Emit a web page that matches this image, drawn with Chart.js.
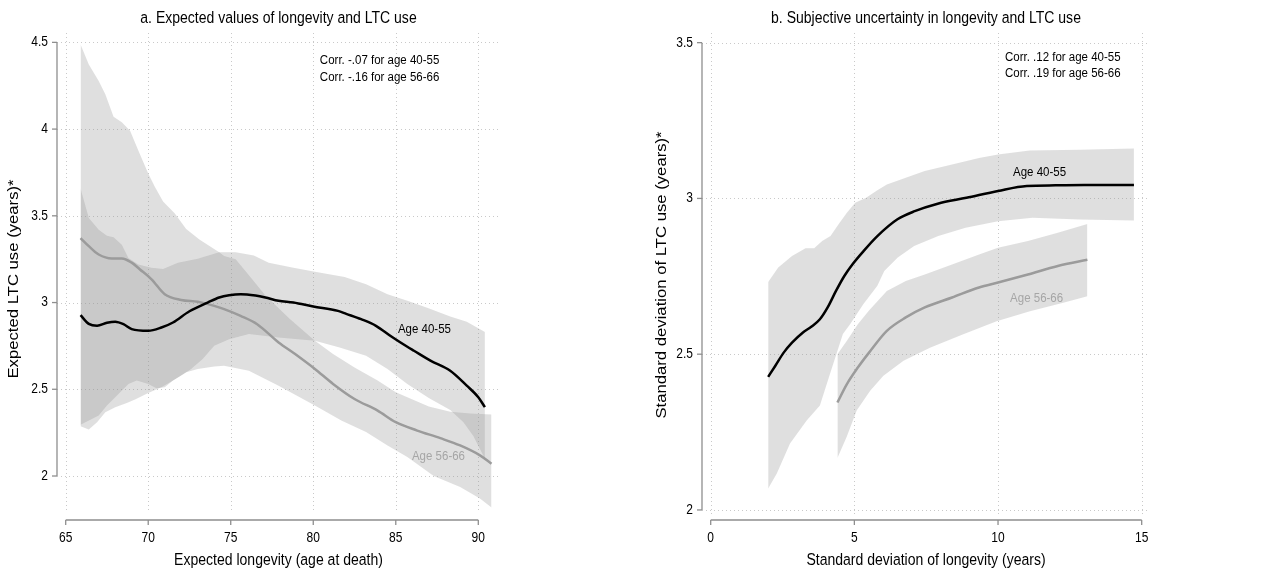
<!DOCTYPE html>
<html>
<head>
<meta charset="utf-8">
<title>Longevity and LTC use</title>
<script src="https://cdn.jsdelivr.net/npm/chart.js@4.4.0/dist/chart.umd.min.js"></script>
<style>
  html, body { margin: 0; padding: 0; background: #fff; }
  #wrap { position: relative; width: 1264px; height: 574px; }
  canvas { position: absolute; top: 0; }
  #leftChart { left: 0; }
  #rightChart { left: 632px; }
</style>
</head>
<body>
<div id="wrap">
  <canvas id="leftChart" width="632" height="574"></canvas>
  <canvas id="rightChart" width="632" height="574"></canvas>
</div>
<script>
// ---- panel a: expected longevity vs expected LTC use ----
const aYoungX = [65.9, 66.4, 66.9, 67.5, 68.0, 68.5, 69.0, 70.0, 70.8, 71.5, 72.5, 73.6, 74.3, 74.9, 75.6, 76.5, 77.1, 77.9, 78.8, 80.0, 81.5, 82.0, 82.9, 83.8, 84.8, 85.7, 86.1, 87.1, 88.3, 89.3, 90.0, 90.4];
const aYoungY = [2.927, 2.877, 2.866, 2.883, 2.889, 2.875, 2.847, 2.837, 2.856, 2.885, 2.95, 3.0, 3.029, 3.042, 3.048, 3.04, 3.029, 3.01, 3.0, 2.977, 2.952, 2.935, 2.904, 2.866, 2.8, 2.745, 2.722, 2.665, 2.607, 2.521, 2.454, 2.397];
const aOldX = [65.9, 66.4, 67.0, 67.8, 68.4, 69.0, 69.5, 70.2, 71.0, 72.0, 73.0, 74.0, 74.6, 75.6, 76.6, 77.9, 78.9, 80.1, 81.2, 82.5, 83.9, 85.0, 86.3, 87.7, 88.9, 90.1, 90.8];
const aOldY = [3.372, 3.325, 3.277, 3.254, 3.254, 3.23, 3.191, 3.134, 3.048, 3.015, 3.004, 2.981, 2.962, 2.923, 2.875, 2.77, 2.703, 2.617, 2.531, 2.444, 2.377, 2.31, 2.262, 2.218, 2.176, 2.119, 2.071];

// confidence bands, panel a
const aYoungHiX = [65.9, 66.4, 67.0, 67.5, 67.9, 68.4, 68.8, 69.4, 70.2, 70.9, 71.8, 73.0, 74.3, 75.3, 76.4, 77.3, 78.8, 80.1, 81.9, 83.2, 84.5, 85.7, 86.9, 88.3, 89.3, 90.4];
const aYoungHiY = [3.658, 3.487, 3.42, 3.385, 3.377, 3.333, 3.257, 3.219, 3.2, 3.194, 3.229, 3.252, 3.29, 3.29, 3.271, 3.229, 3.2, 3.178, 3.148, 3.105, 3.048, 3.01, 2.97, 2.92, 2.89, 2.83];
const aYoungLoX = [65.9, 67.0, 67.5, 68.2, 68.8, 69.3, 70.0, 70.5, 71.0, 71.5, 72.0, 72.6, 73.3, 74.0, 74.9, 76.1, 77.9, 80.1, 81.6, 83.2, 84.5, 85.7, 87.0, 88.3, 89.1, 89.7, 90.4];
const aYoungLoY = [2.295, 2.349, 2.406, 2.473, 2.531, 2.55, 2.531, 2.506, 2.511, 2.55, 2.579, 2.617, 2.674, 2.751, 2.789, 2.818, 2.799, 2.78, 2.741, 2.693, 2.617, 2.531, 2.45, 2.38, 2.31, 2.23, 2.10];
const aOldHiX = [65.9, 66.4, 67.0, 67.4, 67.9, 68.4, 68.9, 69.4, 70.0, 70.4, 70.9, 71.6, 72.3, 73.1, 74.3, 74.6, 75.3, 76.3, 77.1, 78.6, 80.1, 81.2, 82.5, 83.9, 85.0, 85.7, 87.0, 88.3, 89.5, 90.8];
const aOldHiY = [4.487, 4.372, 4.277, 4.201, 4.071, 4.039, 3.991, 3.877, 3.744, 3.668, 3.582, 3.515, 3.424, 3.363, 3.29, 3.268, 3.249, 3.134, 3.04, 2.904, 2.78, 2.703, 2.626, 2.55, 2.483, 2.454, 2.40, 2.37, 2.36, 2.355];
const aOldLoX = [65.9, 66.4, 66.9, 67.4, 68.0, 68.7, 69.2, 70.0, 70.8, 71.5, 72.3, 73.0, 74.0, 74.6, 76.1, 77.9, 80.1, 81.7, 83.2, 84.5, 85.7, 87.3, 88.9, 90.1, 90.8];
const aOldLoY = [2.287, 2.268, 2.31, 2.368, 2.397, 2.421, 2.441, 2.479, 2.511, 2.55, 2.598, 2.617, 2.632, 2.636, 2.607, 2.521, 2.406, 2.32, 2.253, 2.176, 2.109, 2.0, 1.937, 1.87, 1.818];

// ---- panel b: SD of longevity vs SD of LTC use ----
const bYoungX = [2.0, 2.25, 2.54, 2.83, 3.2, 3.5, 3.8, 4.07, 4.36, 4.65, 4.93, 5.32, 5.8, 6.5, 7.1, 7.9, 8.9, 10.0, 11.0, 12.0, 13.0, 14.0, 14.73];
const bYoungY = [2.427, 2.463, 2.505, 2.537, 2.569, 2.588, 2.612, 2.65, 2.703, 2.751, 2.788, 2.831, 2.879, 2.933, 2.959, 2.983, 3.002, 3.024, 3.04, 3.042, 3.043, 3.043, 3.043];
const bOldX = [4.41, 4.74, 5.12, 5.51, 6.13, 6.79, 7.45, 8.4, 9.34, 10.0, 11.04, 12.08, 13.11];
const bOldY = [2.345, 2.404, 2.457, 2.505, 2.575, 2.618, 2.65, 2.682, 2.714, 2.73, 2.756, 2.783, 2.803];

const bYoungHiX = [2.0, 2.35, 2.83, 3.3, 3.6, 3.88, 4.17, 4.45, 4.74, 5.03, 5.41, 5.8, 6.13, 6.79, 7.45, 8.4, 9.34, 10.0, 11.1, 12.85, 14.73];
const bYoungHiY = [2.732, 2.778, 2.815, 2.84, 2.84, 2.863, 2.879, 2.917, 2.954, 2.986, 3.002, 3.026, 3.045, 3.066, 3.088, 3.109, 3.13, 3.141, 3.154, 3.156, 3.16];
const bYoungLoX = [2.0, 2.3, 2.76, 3.34, 3.8, 4.15, 4.39, 4.6, 4.85, 5.31, 5.8, 6.04, 6.51, 7.08, 7.92, 8.87, 10.0, 11.2, 12.85, 14.73];
const bYoungLoY = [2.069, 2.117, 2.213, 2.287, 2.335, 2.436, 2.505, 2.565, 2.596, 2.66, 2.72, 2.767, 2.81, 2.847, 2.879, 2.906, 2.927, 2.938, 2.932, 2.929];
const bOldHiX = [4.41, 4.74, 5.12, 5.51, 6.13, 6.79, 7.45, 8.4, 9.34, 10.0, 11.04, 12.08, 13.11];
const bOldHiY = [2.5, 2.543, 2.596, 2.64, 2.703, 2.735, 2.756, 2.788, 2.82, 2.842, 2.863, 2.89, 2.918];
const bOldLoX = [4.41, 4.73, 5.08, 5.55, 6.01, 6.71, 7.63, 8.79, 9.95, 11.11, 12.27, 13.11];
const bOldLoY = [2.167, 2.234, 2.319, 2.383, 2.431, 2.479, 2.521, 2.564, 2.606, 2.638, 2.665, 2.686];

// axis ticks
const aXTicks = [65, 70, 75, 80, 85, 90];
const aYTicks = [2, 2.5, 3, 3.5, 4, 4.5];
const bXTicks = [0, 5, 10, 15];
const bYTicks = [2, 2.5, 3, 3.5];

// text
const groupLabels = ['Age 40-55', 'Age 56-66'];
const aNotes = ['Corr. -.07 for age 40-55', 'Corr. -.16 for age 56-66'];
const bNotes = ['Corr. .12 for age 40-55', 'Corr. .19 for age 56-66'];

const FONT = "'Liberation Sans', Arial, Helvetica, sans-serif";
const SQUEEZE = 0.84; // glyphs are narrow and tall
const BAND = 'rgba(150,150,150,0.30)';
const GRAY_LINE = '#9b9b9b';
const GRAY_TEXT = '#a6a6a6';
const AXIS = '#8e8e8e';

function pts(xs, ys) {
  return xs.map((x, i) => ({ x: x, y: ys[i] }));
}

// per-panel decoration: titles, axes, notes and group labels
const panels = {
  leftChart: {
    title: 'a. Expected values of longevity and LTC use',
    xTitle: 'Expected longevity (age at death)',
    yTitle: 'Expected LTC use (years)*',
    xTicks: aXTicks, yTicks: aYTicks,
    axisY: 520, yTitleX: 14, yTitleY: 279,
    notes: aNotes, noteAt: [80.4, 4.398], noteGap: 17.5,
    labels: [[85.13, 2.847, '#000'], [85.98, 2.115, GRAY_TEXT]]
  },
  rightChart: {
    title: 'b. Subjective uncertainty in longevity and LTC use',
    xTitle: 'Standard deviation of longevity (years)',
    yTitle: 'Standard deviation of LTC use (years)*',
    xTicks: bXTicks, yTicks: bYTicks,
    axisY: 520, yTitleX: 30, yTitleY: 275,
    notes: bNotes, noteAt: [10.24, 3.454], noteGap: 16,
    labels: [[10.52, 3.085, '#000'], [10.42, 2.681, GRAY_TEXT]]
  }
};

function text(ctx, str, x, y, size, color, align, rotated) {
  ctx.save();
  ctx.translate(x, y);
  ctx.scale(SQUEEZE, 1);
  if (rotated) ctx.rotate(-Math.PI / 2);
  ctx.font = size + 'px ' + FONT;
  ctx.fillStyle = color;
  ctx.textAlign = align || 'center';
  ctx.textBaseline = 'middle';
  ctx.fillText(str, 0, 0);
  ctx.restore();
}

const framePlugin = {
  id: 'frame',
  beforeDatasetsDraw(chart) {
    const p = panels[chart.canvas.id];
    const { ctx, chartArea: a } = chart;
    const sx = chart.scales.x, sy = chart.scales.y;
    ctx.save();
    ctx.strokeStyle = '#c9c9c9';
    ctx.lineWidth = 1;
    ctx.setLineDash([1, 3]);
    p.xTicks.forEach(v => {
      const px = Math.round(sx.getPixelForValue(v)) + 0.5;
      ctx.beginPath(); ctx.moveTo(px, a.top); ctx.lineTo(px, a.bottom); ctx.stroke();
    });
    p.yTicks.forEach(v => {
      const py = Math.round(sy.getPixelForValue(v)) + 0.5;
      ctx.beginPath(); ctx.moveTo(a.left, py); ctx.lineTo(a.right, py); ctx.stroke();
    });
    ctx.restore();
  },
  afterDraw(chart) {
    const p = panels[chart.canvas.id];
    const { ctx, chartArea: a } = chart;
    const sx = chart.scales.x, sy = chart.scales.y;
    const x0 = sx.getPixelForValue(p.xTicks[0]);
    const x1 = sx.getPixelForValue(p.xTicks[p.xTicks.length - 1]);
    const yTop = sy.getPixelForValue(p.yTicks[p.yTicks.length - 1]);
    const yBot = sy.getPixelForValue(p.yTicks[0]);
    const ax = a.left;
    ctx.save();
    ctx.strokeStyle = AXIS;
    ctx.lineWidth = 1.3;
    // y axis with outward ticks
    ctx.beginPath(); ctx.moveTo(ax, yTop); ctx.lineTo(ax, yBot); ctx.stroke();
    p.yTicks.forEach(v => {
      const py = sy.getPixelForValue(v);
      ctx.beginPath(); ctx.moveTo(ax - 5, py); ctx.lineTo(ax, py); ctx.stroke();
      text(ctx, String(v), ax - 9, py, 14.3, '#000', 'right');
    });
    // x axis, offset below the plot region
    ctx.beginPath(); ctx.moveTo(x0, p.axisY); ctx.lineTo(x1, p.axisY); ctx.stroke();
    p.xTicks.forEach(v => {
      const px = sx.getPixelForValue(v);
      ctx.beginPath(); ctx.moveTo(px, p.axisY); ctx.lineTo(px, p.axisY + 5); ctx.stroke();
      text(ctx, String(v), px, p.axisY + 18, 14.3, '#000', 'center');
    });
    const midX = (a.left + a.right) / 2;
    text(ctx, p.xTitle, midX, 560, 16.7, '#000', 'center');
    text(ctx, p.title, midX, 18, 16.7, '#000', 'center');
    text(ctx, p.yTitle, p.yTitleX, p.yTitleY, 16.7, '#000', 'center', true);
    // correlation notes
    const nx = sx.getPixelForValue(p.noteAt[0]);
    const ny = sy.getPixelForValue(p.noteAt[1]);
    p.notes.forEach((n, i) => text(ctx, n, nx, ny + i * p.noteGap, 13.7, '#000', 'left'));
    // group labels next to the curves
    p.labels.forEach((l, i) => {
      text(ctx, groupLabels[i], sx.getPixelForValue(l[0]), sy.getPixelForValue(l[1]), 13.7, l[2], 'left');
    });
    ctx.restore();
  }
};

function lineSet(data, color) {
  return {
    data: data, borderColor: color, borderWidth: 2.5, pointRadius: 0,
    fill: false, cubicInterpolationMode: 'monotone'
  };
}
function edgeSet(data, fillNext) {
  return {
    data: data, borderWidth: 0, borderColor: 'rgba(0,0,0,0)', pointRadius: 0,
    tension: 0, backgroundColor: BAND, fill: fillNext ? '+1' : false
  };
}

function makeChart(id, sets, xr, yr, pad) {
  return new Chart(document.getElementById(id), {
    type: 'line',
    data: { datasets: sets },
    options: {
      responsive: false,
      animation: false,
      events: [],
      layout: { padding: pad },
      plugins: { legend: { display: false }, tooltip: { enabled: false } },
      scales: {
        x: { type: 'linear', display: false, min: xr[0], max: xr[1] },
        y: { type: 'linear', display: false, min: yr[0], max: yr[1] }
      }
    },
    plugins: [framePlugin]
  });
}

makeChart('leftChart', [
  lineSet(pts(aYoungX, aYoungY), '#000'),
  lineSet(pts(aOldX, aOldY), GRAY_LINE),
  edgeSet(pts(aYoungHiX, aYoungHiY), true),
  edgeSet(pts(aYoungLoX, aYoungLoY), false),
  edgeSet(pts(aOldHiX, aOldHiY), true),
  edgeSet(pts(aOldLoX, aOldLoY), false)
], [64.473, 91.315], [1.804, 4.554], { left: 57, right: 132, top: 33, bottom: 64 });

makeChart('rightChart', [
  lineSet(pts(bYoungX, bYoungY), '#000'),
  lineSet(pts(bOldX, bOldY), GRAY_LINE),
  edgeSet(pts(bYoungHiX, bYoungHiY), true),
  edgeSet(pts(bYoungLoX, bYoungLoY), false),
  edgeSet(pts(bOldHiX, bOldHiY), true),
  edgeSet(pts(bOldLoX, bOldLoY), false)
], [-0.303, 15.289], [1.987, 3.531], { left: 70, right: 114, top: 33, bottom: 60 });
</script>
</body>
</html>
